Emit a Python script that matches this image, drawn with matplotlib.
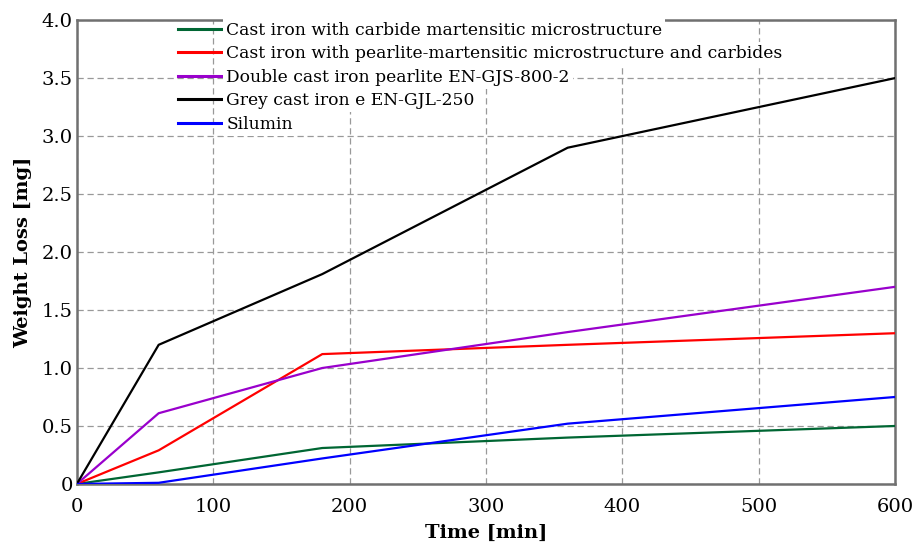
import matplotlib.pyplot as plt

plt.rcParams['font.family'] = ['DejaVu Serif']

time_min = [0, 60, 180, 360, 600]

carbide_mart = [0, 0.10, 0.31, 0.40, 0.50]
pearlite_mart = [0, 0.29, 1.12, 1.20, 1.30]
double_gjs = [0, 0.61, 1.00, 1.31, 1.70]
grey_gjl = [0, 1.20, 1.81, 2.90, 3.50]
silumin = [0, 0.01, 0.22, 0.52, 0.75]

labels = ['Cast iron with carbide martensitic microstructure',
          'Cast iron with pearlite-martensitic microstructure and carbides',
          'Double cast iron pearlite EN-GJS-800-2',
          'Grey cast iron e EN-GJL-250',
          'Silumin']
colors = ['#006633', '#ff0000', '#9900cc', '#000000', '#0000ff']
series = [carbide_mart, pearlite_mart, double_gjs, grey_gjl, silumin]

fig = plt.figure(figsize=(9.15, 5.45), dpi=100)
ax = fig.add_axes([0.084, 0.112, 0.894, 0.851])

for y, c, lab in zip(series, colors, labels):
    ax.plot(time_min, y, color=c, lw=1.6, label=lab, zorder=3)

ax.set_xlim(0, 600)
ax.set_ylim(0, 4.0)
ax.set_xticks([0, 100, 200, 300, 400, 500, 600])
ax.set_yticks([0, 0.5, 1.0, 1.5, 2.0, 2.5, 3.0, 3.5, 4.0])
ax.set_yticklabels(['0', '0.5', '1.0', '1.5', '2.0', '2.5', '3.0', '3.5', '4.0'])
ax.tick_params(length=0, labelsize=14)
ax.tick_params(axis='x', pad=10)
ax.tick_params(axis='y', pad=3)
ax.grid(True, color='#999999', ls=(0, (5, 3)), lw=0.9, zorder=1)
ax.set_axisbelow(True)
for s in ax.spines.values():
    s.set_color('#707070')
    s.set_linewidth(1.8)

ax.set_xlabel('Time [min]', fontsize=14, fontweight='bold', labelpad=6)
ax.set_ylabel('Weight Loss [mg]', fontsize=14, fontweight='bold', labelpad=7)

# legend without frame; each label gets its own white patch over the grid
leg = ax.legend(loc='upper left', bbox_to_anchor=(0.122, 1.0), frameon=False,
                fontsize=12.3, handlelength=2.5, handletextpad=0.3,
                labelspacing=0.38, borderpad=0.1, borderaxespad=0)
for t in leg.get_texts():
    t.set_bbox(dict(facecolor='white', edgecolor='none', pad=2.2))
for h in leg.get_lines():
    h.set_linewidth(2.2)

fig.savefig('out.png', dpi=100)
